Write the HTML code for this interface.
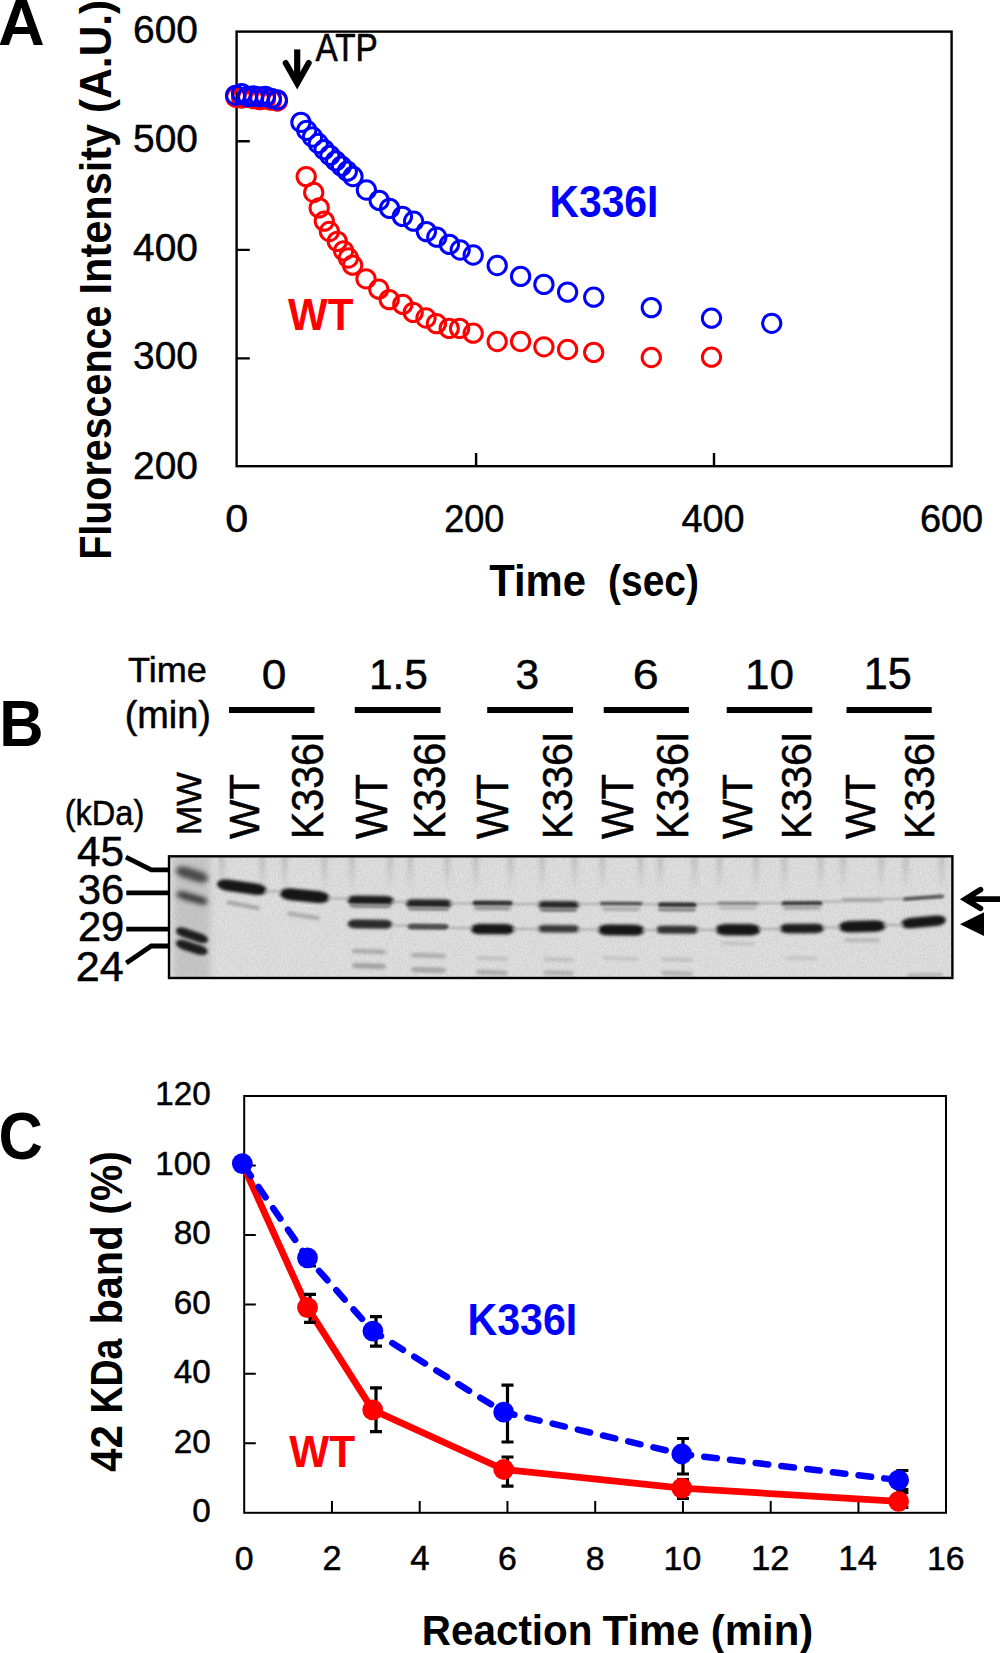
<!DOCTYPE html>
<html><head><meta charset="utf-8"><style>
html,body{margin:0;padding:0;background:#fff;}
body{width:1000px;height:1653px;overflow:hidden;}
svg{display:block;}
text{font-family:"Liberation Sans",sans-serif;}
</style></head><body>
<svg width="1000" height="1653" viewBox="0 0 1000 1653">
<rect width="1000" height="1653" fill="#fff"/>
<text transform="translate(-2.12,44.70) scale(0.9867,1)" font-size="65.65" font-weight="bold" fill="#000" >A</text>
<rect x="236.6" y="31.6" width="715" height="434.6" fill="none" stroke="#000" stroke-width="2.4"/>
<path d="M236.6,141.30H249.8 M236.6,249.85H249.8 M236.6,358.40H249.8 M476.10,466.2V453.1 M714.00,466.2V453.1" stroke="#000" stroke-width="2.4" fill="none"/>
<text transform="translate(133.03,43.41) scale(1.0000,1)" font-size="38.87" font-weight="normal" fill="#000" stroke="#000" stroke-width="0.50">600</text>
<text transform="translate(133.03,152.06) scale(1.0000,1)" font-size="38.87" font-weight="normal" fill="#000" stroke="#000" stroke-width="0.50">500</text>
<text transform="translate(133.03,260.61) scale(1.0000,1)" font-size="38.87" font-weight="normal" fill="#000" stroke="#000" stroke-width="0.50">400</text>
<text transform="translate(133.03,369.31) scale(1.0000,1)" font-size="38.87" font-weight="normal" fill="#000" stroke="#000" stroke-width="0.50">300</text>
<text transform="translate(133.03,478.61) scale(1.0000,1)" font-size="38.87" font-weight="normal" fill="#000" stroke="#000" stroke-width="0.50">200</text>
<text transform="translate(225.15,532.42) scale(1.0851,1)" font-size="38.03" font-weight="normal" fill="#000" stroke="#000" stroke-width="0.46">0</text>
<text transform="translate(444.20,532.42) scale(0.9450,1)" font-size="38.03" font-weight="normal" fill="#000" stroke="#000" stroke-width="0.53">200</text>
<text transform="translate(681.55,532.42) scale(0.9943,1)" font-size="38.03" font-weight="normal" fill="#000" stroke="#000" stroke-width="0.50">400</text>
<text transform="translate(919.90,532.42) scale(0.9984,1)" font-size="38.03" font-weight="normal" fill="#000" stroke="#000" stroke-width="0.50">600</text>
<text transform="translate(489.18,596.40) scale(0.9236,1)" font-size="45.22" font-weight="bold" fill="#000" >Time</text>
<text transform="translate(608.05,596.40) scale(0.8609,1)" font-size="45.22" font-weight="bold" fill="#000" >(sec)</text>
<text transform="translate(110.60,559.76) rotate(-90) scale(0.8980,1)" font-size="43.91" font-weight="bold" fill="#000">Fluorescence</text>
<text transform="translate(110.60,294.50) rotate(-90) scale(0.9458,1)" font-size="43.91" font-weight="bold" fill="#000">Intensity</text>
<text transform="translate(110.60,112.92) rotate(-90) scale(0.9667,1)" font-size="43.91" font-weight="bold" fill="#000">(A.U.)</text>
<text transform="translate(315.43,61.40) scale(0.8727,1)" font-size="38.26" font-weight="normal" fill="#000" stroke="#000" stroke-width="0.57" >ATP</text>
<path d="M297.2,49.4V83" stroke="#000" stroke-width="6.2" fill="none"/>
<path d="M285.7,63 L297.2,83.3 L308.7,63" stroke="#000" stroke-width="6" fill="none" stroke-linecap="round" stroke-linejoin="miter"/>
<text transform="translate(549.55,216.50) scale(0.9289,1)" font-size="43.91" font-weight="bold" fill="#0000ff" >K336I</text>
<text transform="translate(288.00,330.00) scale(0.9676,1)" font-size="43.48" font-weight="bold" fill="#ff0000" >WT</text>
<g fill="none" stroke="#ff0000" stroke-width="3.0"><circle cx="235.8" cy="97.2" r="9.15"/><circle cx="241.7" cy="98.0" r="9.15"/><circle cx="247.7" cy="97.4" r="9.15"/><circle cx="253.6" cy="98.6" r="9.15"/><circle cx="259.6" cy="99.6" r="9.15"/><circle cx="265.5" cy="99.0" r="9.15"/><circle cx="271.5" cy="100.2" r="9.15"/><circle cx="277.4" cy="101.0" r="9.15"/></g>
<g fill="none" stroke="#0000ff" stroke-width="3.0"><circle cx="235.6" cy="95.3" r="9.15"/><circle cx="241.6" cy="93.6" r="9.15"/><circle cx="247.5" cy="96.5" r="9.15"/><circle cx="253.5" cy="96.0" r="9.15"/><circle cx="259.4" cy="96.8" r="9.15"/><circle cx="265.4" cy="96.3" r="9.15"/><circle cx="271.3" cy="98.3" r="9.15"/><circle cx="277.3" cy="99.8" r="9.15"/></g>
<g fill="none" stroke="#0000ff" stroke-width="3.0"><circle cx="300.9" cy="122.3" r="9.15"/><circle cx="306.7" cy="130.3" r="9.15"/><circle cx="312.5" cy="137.0" r="9.15"/><circle cx="318.3" cy="143.5" r="9.15"/><circle cx="324.1" cy="149.6" r="9.15"/><circle cx="329.9" cy="155.4" r="9.15"/><circle cx="335.7" cy="160.9" r="9.15"/><circle cx="341.5" cy="166.1" r="9.15"/><circle cx="347.3" cy="171.2" r="9.15"/><circle cx="353.0" cy="176.5" r="9.15"/><circle cx="366.4" cy="190.0" r="9.15"/><circle cx="379.2" cy="200.4" r="9.15"/><circle cx="389.6" cy="208.4" r="9.15"/><circle cx="402.4" cy="216.4" r="9.15"/><circle cx="413.6" cy="221.2" r="9.15"/><circle cx="426.4" cy="231.6" r="9.15"/><circle cx="436.8" cy="237.2" r="9.15"/><circle cx="449.4" cy="244.4" r="9.15"/><circle cx="460.2" cy="250.0" r="9.15"/><circle cx="473.2" cy="255.0" r="9.15"/><circle cx="497.2" cy="265.5" r="9.15"/><circle cx="520.6" cy="276.4" r="9.15"/><circle cx="543.9" cy="284.4" r="9.15"/><circle cx="567.6" cy="292.1" r="9.15"/><circle cx="593.7" cy="297.2" r="9.15"/><circle cx="651.3" cy="307.6" r="9.15"/><circle cx="711.5" cy="318.2" r="9.15"/><circle cx="771.7" cy="323.3" r="9.15"/></g>
<g fill="none" stroke="#ff0000" stroke-width="3.0"><circle cx="306.2" cy="176.6" r="9.15"/><circle cx="313.7" cy="192.5" r="9.15"/><circle cx="319.2" cy="207.9" r="9.15"/><circle cx="324.3" cy="221.1" r="9.15"/><circle cx="329.4" cy="231.5" r="9.15"/><circle cx="337.3" cy="241.4" r="9.15"/><circle cx="343.6" cy="250.8" r="9.15"/><circle cx="348.4" cy="258.0" r="9.15"/><circle cx="352.6" cy="265.2" r="9.15"/><circle cx="366.0" cy="278.8" r="9.15"/><circle cx="378.8" cy="289.2" r="9.15"/><circle cx="389.2" cy="299.6" r="9.15"/><circle cx="402.8" cy="304.4" r="9.15"/><circle cx="413.2" cy="312.4" r="9.15"/><circle cx="426.0" cy="318.0" r="9.15"/><circle cx="436.4" cy="323.6" r="9.15"/><circle cx="449.2" cy="328.4" r="9.15"/><circle cx="459.6" cy="328.4" r="9.15"/><circle cx="473.2" cy="333.2" r="9.15"/><circle cx="497.2" cy="341.5" r="9.15"/><circle cx="520.6" cy="341.5" r="9.15"/><circle cx="543.9" cy="346.8" r="9.15"/><circle cx="567.6" cy="349.5" r="9.15"/><circle cx="593.7" cy="352.4" r="9.15"/><circle cx="651.3" cy="357.5" r="9.15"/><circle cx="711.5" cy="357.2" r="9.15"/></g>
<text transform="translate(-0.70,745.50) scale(0.9364,1)" font-size="65.65" font-weight="bold" fill="#000" >B</text>
<text transform="translate(127.98,681.90) scale(1.0519,1)" font-size="34.35" font-weight="normal" fill="#000" stroke="#000" stroke-width="0.48" >Time</text>
<text transform="translate(124.73,727.50) scale(0.9770,1)" font-size="38.76" font-weight="normal" fill="#000" stroke="#000" stroke-width="0.51" >(min)</text>
<text transform="translate(64.75,825.10) scale(0.9040,1)" font-size="36.00" font-weight="normal" fill="#000" stroke="#000" stroke-width="0.55" >(kDa)</text>
<text transform="translate(261.73,689.20) scale(1.0180,1)" font-size="43.43" font-weight="normal" fill="#000" stroke="#000" stroke-width="0.49" >0</text>
<text transform="translate(368.91,689.20) scale(0.9788,1)" font-size="43.43" font-weight="normal" fill="#000" stroke="#000" stroke-width="0.51" >1.5</text>
<text transform="translate(515.41,689.20) scale(0.9749,1)" font-size="43.43" font-weight="normal" fill="#000" stroke="#000" stroke-width="0.51" >3</text>
<text transform="translate(632.66,689.20) scale(1.0762,1)" font-size="43.43" font-weight="normal" fill="#000" stroke="#000" stroke-width="0.46" >6</text>
<text transform="translate(744.99,689.20) scale(1.0159,1)" font-size="43.43" font-weight="normal" fill="#000" stroke="#000" stroke-width="0.49" >10</text>
<text transform="translate(863.76,689.20) scale(0.9951,1)" font-size="43.43" font-weight="normal" fill="#000" stroke="#000" stroke-width="0.50" >15</text>
<text transform="translate(200.50,835.24) rotate(-90) scale(1.0085,1)" font-size="35.22" font-weight="normal" fill="#000" stroke="#000" stroke-width="0.50">MW</text>
<text transform="translate(258.90,838.91) rotate(-90) scale(0.9688,1)" font-size="43.04" font-weight="normal" fill="#000" stroke="#000" stroke-width="0.52">WT</text>
<text transform="translate(386.60,838.91) rotate(-90) scale(0.9342,1)" font-size="44.64" font-weight="normal" fill="#000" stroke="#000" stroke-width="0.54">WT</text>
<text transform="translate(508.00,838.91) rotate(-90) scale(0.9465,1)" font-size="44.06" font-weight="normal" fill="#000" stroke="#000" stroke-width="0.53">WT</text>
<text transform="translate(633.20,838.91) rotate(-90) scale(0.9403,1)" font-size="44.35" font-weight="normal" fill="#000" stroke="#000" stroke-width="0.53">WT</text>
<text transform="translate(751.90,838.91) rotate(-90) scale(0.9753,1)" font-size="42.75" font-weight="normal" fill="#000" stroke="#000" stroke-width="0.51">WT</text>
<text transform="translate(875.20,838.91) rotate(-90) scale(0.9655,1)" font-size="43.19" font-weight="normal" fill="#000" stroke="#000" stroke-width="0.52">WT</text>
<text transform="translate(322.80,839.30) rotate(-90) scale(0.9306,1)" font-size="44.35" font-weight="normal" fill="#000" stroke="#000" stroke-width="0.54">K336I</text>
<text transform="translate(445.00,839.30) rotate(-90) scale(0.9246,1)" font-size="44.64" font-weight="normal" fill="#000" stroke="#000" stroke-width="0.54">K336I</text>
<text transform="translate(571.50,839.30) rotate(-90) scale(0.9524,1)" font-size="43.33" font-weight="normal" fill="#000" stroke="#000" stroke-width="0.52">K336I</text>
<text transform="translate(688.30,839.30) rotate(-90) scale(0.9492,1)" font-size="43.48" font-weight="normal" fill="#000" stroke="#000" stroke-width="0.53">K336I</text>
<text transform="translate(810.50,839.30) rotate(-90) scale(0.9524,1)" font-size="43.33" font-weight="normal" fill="#000" stroke="#000" stroke-width="0.52">K336I</text>
<text transform="translate(933.50,839.30) rotate(-90) scale(0.9556,1)" font-size="43.19" font-weight="normal" fill="#000" stroke="#000" stroke-width="0.52">K336I</text>
<text transform="translate(77.05,866.38) scale(1.0000,1)" font-size="42.29" font-weight="normal" fill="#000" stroke="#000" stroke-width="0.50">45</text>
<text transform="translate(77.75,903.88) scale(1.0000,1)" font-size="41.83" font-weight="normal" fill="#000" stroke="#000" stroke-width="0.50">36</text>
<text transform="translate(77.90,940.68) scale(1.0000,1)" font-size="41.69" font-weight="normal" fill="#000" stroke="#000" stroke-width="0.50">29</text>
<text transform="translate(75.71,981.00) scale(1.0000,1)" font-size="43.14" font-weight="normal" fill="#000" stroke="#000" stroke-width="0.50">24</text>
<path d="M229,710H314.5 M354.8,710H440.6 M487.2,710H573 M603.7,710H688.9 M726.7,710H812.3 M846.5,710H931.7" stroke="#000" stroke-width="6" fill="none"/>
<path d="M125.9,857.1L151.3,869.8H168 M126.3,892.8H168 M126.3,929.1H168 M126.3,962.9L151.3,946H168" stroke="#000" stroke-width="4.8" fill="none" stroke-linejoin="miter"/>
<defs>
<filter id="b1" x="-30%" y="-150%" width="160%" height="400%"><feGaussianBlur stdDeviation="1.25"/></filter>
<filter id="b15" x="-30%" y="-150%" width="160%" height="400%"><feGaussianBlur stdDeviation="1.55"/></filter>
<filter id="b2" x="-30%" y="-150%" width="160%" height="400%"><feGaussianBlur stdDeviation="1.8"/></filter>
<filter id="b25" x="-30%" y="-150%" width="160%" height="400%"><feGaussianBlur stdDeviation="2.4"/></filter>
<filter id="b28" x="-30%" y="-150%" width="160%" height="400%"><feGaussianBlur stdDeviation="2.8"/></filter>
<filter id="b3" x="-20%" y="-20%" width="140%" height="140%"><feGaussianBlur stdDeviation="3"/></filter>
<filter id="noise" x="0" y="0" width="100%" height="100%"><feTurbulence type="fractalNoise" baseFrequency="0.55" numOctaves="2" seed="3"/><feColorMatrix type="matrix" values="1.2 0 0 0 0.16  1.2 0 0 0 0.16  1.2 0 0 0 0.16  0 0 0 0 0.22"/><feGaussianBlur stdDeviation="0.6"/></filter>
<filter id="bs" filterUnits="userSpaceOnUse" x="0" y="840" width="1000" height="160"><feGaussianBlur stdDeviation="2.2"/></filter>
<linearGradient id="streak" x1="0" y1="0" x2="0" y2="1"><stop offset="0" stop-color="#808080" stop-opacity="0.38"/><stop offset="0.5" stop-color="#808080" stop-opacity="0.2"/><stop offset="1" stop-color="#808080" stop-opacity="0"/></linearGradient>
<clipPath id="gelclip"><rect x="169" y="856.5" width="783.4" height="121.5"/></clipPath>
</defs>
<g clip-path="url(#gelclip)">
<rect x="169" y="856.5" width="783.4" height="121.5" fill="#d8d8d8"/>
<rect x="169" y="856.5" width="783.4" height="121.5" filter="url(#noise)"/>
<rect x="174" y="856" width="36" height="124" fill="#909090" opacity="0.3" filter="url(#b3)"/>
<rect x="219.3" y="856" width="5" height="36" fill="url(#streak)" filter="url(#bs)"/>
<rect x="259.8" y="856" width="5" height="36" fill="url(#streak)" filter="url(#bs)"/>
<rect x="282.2" y="856" width="5" height="36" fill="url(#streak)" filter="url(#bs)"/>
<rect x="321.9" y="856" width="5" height="36" fill="url(#streak)" filter="url(#bs)"/>
<rect x="349.4" y="856" width="5" height="36" fill="url(#streak)" filter="url(#bs)"/>
<rect x="387.3" y="856" width="5" height="36" fill="url(#streak)" filter="url(#bs)"/>
<rect x="407.7" y="856" width="5" height="36" fill="url(#streak)" filter="url(#bs)"/>
<rect x="445.1" y="856" width="5" height="36" fill="url(#streak)" filter="url(#bs)"/>
<rect x="473.2" y="856" width="5" height="36" fill="url(#streak)" filter="url(#bs)"/>
<rect x="508.1" y="856" width="5" height="36" fill="url(#streak)" filter="url(#bs)"/>
<rect x="539.5" y="856" width="5" height="36" fill="url(#streak)" filter="url(#bs)"/>
<rect x="572.0" y="856" width="5" height="36" fill="url(#streak)" filter="url(#bs)"/>
<rect x="599.9" y="856" width="5" height="36" fill="url(#streak)" filter="url(#bs)"/>
<rect x="638.1" y="856" width="5" height="36" fill="url(#streak)" filter="url(#bs)"/>
<rect x="657.6" y="856" width="5" height="36" fill="url(#streak)" filter="url(#bs)"/>
<rect x="691.8" y="856" width="5" height="36" fill="url(#streak)" filter="url(#bs)"/>
<rect x="717.1" y="856" width="5" height="36" fill="url(#streak)" filter="url(#bs)"/>
<rect x="753.4" y="856" width="5" height="36" fill="url(#streak)" filter="url(#bs)"/>
<rect x="781.9" y="856" width="5" height="36" fill="url(#streak)" filter="url(#bs)"/>
<rect x="818.2" y="856" width="5" height="36" fill="url(#streak)" filter="url(#bs)"/>
<rect x="840.6" y="856" width="5" height="36" fill="url(#streak)" filter="url(#bs)"/>
<rect x="878.7" y="856" width="5" height="36" fill="url(#streak)" filter="url(#bs)"/>
<rect x="903.0" y="856" width="5" height="36" fill="url(#streak)" filter="url(#bs)"/>
<rect x="939.3" y="856" width="5" height="36" fill="url(#streak)" filter="url(#bs)"/>
<rect x="-16.8" y="-5.5" width="33.5" height="11.0" rx="9.9" ry="5.5" fill="#4a4a4a" opacity="1" filter="url(#b28)" transform="translate(192.0,874.5) rotate(17.35)"/>
<rect x="-16.1" y="-3.8" width="32.2" height="7.5" rx="6.8" ry="3.8" fill="#383838" opacity="1" filter="url(#b25)" transform="translate(192.0,897.9) rotate(15.85)"/>
<rect x="-16.9" y="-4.5" width="33.8" height="9.0" rx="8.1" ry="4.5" fill="#1c1c1c" opacity="1" filter="url(#b2)" transform="translate(192.0,935.3) rotate(18.97)"/>
<rect x="-16.6" y="-4.8" width="33.1" height="9.5" rx="8.6" ry="4.8" fill="#1e1e1e" opacity="1" filter="url(#b2)" transform="translate(191.8,947.5) rotate(17.94)"/>
<rect x="-25.1" y="-5.8" width="50.2" height="11.6" rx="10.4" ry="5.8" fill="#141414" opacity="1" filter="url(#b15)" transform="translate(241.8,887.2) rotate(8.13)"/>
<rect x="-17.3" y="-2.0" width="34.6" height="4.1" rx="3.7" ry="2.0" fill="#a4a4a4" opacity="1" filter="url(#b2)" transform="translate(243.0,905.2) rotate(10.82)"/>
<rect x="-25.0" y="-6.0" width="50.1" height="12.1" rx="10.9" ry="6.0" fill="#161616" opacity="1" filter="url(#b15)" transform="translate(304.6,895.7) rotate(5.73)"/>
<rect x="-16.7" y="-2.0" width="33.4" height="4.1" rx="3.7" ry="2.0" fill="#a8a8a8" opacity="1" filter="url(#b2)" transform="translate(303.5,915.9) rotate(9.12)"/>
<rect x="-23.3" y="-4.8" width="46.6" height="9.6" rx="8.6" ry="4.8" fill="#1c1c1c" opacity="1" filter="url(#b15)" transform="translate(370.6,900.5) rotate(0.74)"/>
<rect x="-20.5" y="-2.1" width="41.0" height="4.3" rx="3.9" ry="2.1" fill="#8a8a8a" opacity="1" filter="url(#b1)" transform="translate(370.5,905.8) rotate(0.70)"/>
<rect x="-22.5" y="-4.5" width="45.0" height="9.1" rx="8.2" ry="4.5" fill="#2a2a2a" opacity="1" filter="url(#b15)" transform="translate(370.0,924.1) rotate(0.76)"/>
<rect x="-17.0" y="-2.3" width="34.0" height="4.6" rx="4.1" ry="2.3" fill="#a8a8a8" opacity="1" filter="url(#b2)" transform="translate(369.0,951.5) rotate(1.68)"/>
<rect x="-17.0" y="-2.8" width="34.0" height="5.6" rx="5.0" ry="2.8" fill="#a2a2a2" opacity="1" filter="url(#b2)" transform="translate(369.0,966.0) rotate(1.68)"/>
<rect x="-23.3" y="-4.3" width="46.6" height="8.6" rx="7.7" ry="4.3" fill="#222222" opacity="1" filter="url(#b15)" transform="translate(428.8,903.6) rotate(0.49)"/>
<rect x="-20.5" y="-1.9" width="41.0" height="3.8" rx="3.4" ry="1.9" fill="#8a8a8a" opacity="1" filter="url(#b1)" transform="translate(428.5,908.8) rotate(0.70)"/>
<rect x="-21.0" y="-2.9" width="42.0" height="5.8" rx="5.2" ry="2.9" fill="#505050" opacity="1" filter="url(#b1)" transform="translate(428.0,926.7) rotate(0.55)"/>
<rect x="-17.5" y="-2.3" width="35.0" height="4.6" rx="4.1" ry="2.3" fill="#aaaaaa" opacity="1" filter="url(#b2)" transform="translate(428.5,955.5) rotate(1.64)"/>
<rect x="-17.5" y="-2.8" width="35.0" height="5.6" rx="5.0" ry="2.8" fill="#a6a6a6" opacity="1" filter="url(#b2)" transform="translate(428.5,970.0) rotate(1.64)"/>
<rect x="-20.6" y="-2.6" width="41.2" height="5.3" rx="4.8" ry="2.6" fill="#333333" opacity="1" filter="url(#b1)" transform="translate(492.6,903.1) rotate(0.28)"/>
<rect x="-18.5" y="-2.0" width="37.0" height="4.1" rx="3.7" ry="2.0" fill="#909090" opacity="1" filter="url(#b2)" transform="translate(492.5,908.1) rotate(0.31)"/>
<rect x="-22.1" y="-5.3" width="44.2" height="10.6" rx="9.5" ry="5.3" fill="#181818" opacity="1" filter="url(#b15)" transform="translate(492.6,929.1) rotate(0.26)"/>
<rect x="-16.0" y="-2.0" width="32.0" height="4.1" rx="3.7" ry="2.0" fill="#c0c0c0" opacity="1" filter="url(#b2)" transform="translate(492.0,958.5) rotate(1.79)"/>
<rect x="-16.0" y="-2.5" width="32.0" height="5.1" rx="4.6" ry="2.5" fill="#aaaaaa" opacity="1" filter="url(#b2)" transform="translate(492.0,972.5) rotate(1.79)"/>
<rect x="-20.9" y="-3.8" width="41.8" height="7.6" rx="6.8" ry="3.8" fill="#282828" opacity="1" filter="url(#b15)" transform="translate(558.6,904.8) rotate(0.41)"/>
<rect x="-18.5" y="-1.9" width="37.0" height="3.8" rx="3.4" ry="1.9" fill="#7c7c7c" opacity="1" filter="url(#b1)" transform="translate(558.5,909.9) rotate(0.31)"/>
<rect x="-20.9" y="-3.8" width="41.8" height="7.6" rx="6.8" ry="3.8" fill="#383838" opacity="1" filter="url(#b15)" transform="translate(558.6,928.8) rotate(0.27)"/>
<rect x="-15.5" y="-2.0" width="31.0" height="4.1" rx="3.7" ry="2.0" fill="#c0c0c0" opacity="1" filter="url(#b2)" transform="translate(558.5,959.5) rotate(1.85)"/>
<rect x="-15.5" y="-2.5" width="31.0" height="5.1" rx="4.6" ry="2.5" fill="#b0b0b0" opacity="1" filter="url(#b2)" transform="translate(558.5,973.0) rotate(1.85)"/>
<rect x="-21.8" y="-1.9" width="43.6" height="3.9" rx="3.5" ry="1.9" fill="#555555" opacity="1" filter="url(#b1)" transform="translate(621.2,903.6) rotate(0.26)"/>
<rect x="-19.0" y="-2.0" width="38.0" height="4.1" rx="3.7" ry="2.0" fill="#a8a8a8" opacity="1" filter="url(#b2)" transform="translate(621.0,909.0) rotate(0.60)"/>
<rect x="-23.3" y="-5.6" width="46.6" height="11.2" rx="10.1" ry="5.6" fill="#121212" opacity="1" filter="url(#b15)" transform="translate(621.2,930.0) rotate(0.49)"/>
<rect x="-18.0" y="-1.8" width="36.0" height="3.6" rx="3.2" ry="1.8" fill="#c2c2c2" opacity="1" filter="url(#b2)" transform="translate(621.0,958.5) rotate(1.59)"/>
<rect x="-19.7" y="-2.5" width="39.4" height="5.1" rx="4.6" ry="2.5" fill="#303030" opacity="1" filter="url(#b1)" transform="translate(677.3,904.8) rotate(0.29)"/>
<rect x="-19.0" y="-1.9" width="38.0" height="3.8" rx="3.4" ry="1.9" fill="#8a8a8a" opacity="1" filter="url(#b1)" transform="translate(677.0,909.6) rotate(0.45)"/>
<rect x="-21.2" y="-4.1" width="42.4" height="8.2" rx="7.4" ry="4.1" fill="#333333" opacity="1" filter="url(#b15)" transform="translate(677.3,929.7) rotate(0.27)"/>
<rect x="-16.0" y="-1.8" width="32.0" height="3.6" rx="3.2" ry="1.8" fill="#bebebe" opacity="1" filter="url(#b2)" transform="translate(677.0,959.5) rotate(1.79)"/>
<rect x="-16.0" y="-2.5" width="32.0" height="5.1" rx="4.6" ry="2.5" fill="#b4b4b4" opacity="1" filter="url(#b2)" transform="translate(677.0,973.5) rotate(1.79)"/>
<rect x="-21.2" y="-1.6" width="42.4" height="3.3" rx="3.0" ry="1.6" fill="#7a7a7a" opacity="1" filter="url(#b1)" transform="translate(738.0,903.3) rotate(0.27)"/>
<rect x="-19.0" y="-1.6" width="38.0" height="3.1" rx="2.8" ry="1.6" fill="#b0b0b0" opacity="1" filter="url(#b2)" transform="translate(738.0,907.9) rotate(0.30)"/>
<rect x="-22.7" y="-5.8" width="45.4" height="11.6" rx="10.4" ry="5.8" fill="#121212" opacity="1" filter="url(#b15)" transform="translate(738.0,929.7) rotate(0.25)"/>
<rect x="-17.0" y="-1.6" width="34.0" height="3.1" rx="2.8" ry="1.6" fill="#bcbcbc" opacity="1" filter="url(#b2)" transform="translate(738.0,943.5) rotate(1.68)"/>
<rect x="-20.9" y="-2.2" width="41.8" height="4.5" rx="4.0" ry="2.2" fill="#3a3a3a" opacity="1" filter="url(#b1)" transform="translate(801.9,903.3) rotate(-0.27)"/>
<rect x="-19.0" y="-1.8" width="38.0" height="3.6" rx="3.2" ry="1.8" fill="#9a9a9a" opacity="1" filter="url(#b2)" transform="translate(802.0,907.8) rotate(-0.30)"/>
<rect x="-22.4" y="-4.7" width="44.8" height="9.4" rx="8.5" ry="4.7" fill="#1e1e1e" opacity="1" filter="url(#b15)" transform="translate(801.9,928.5) rotate(-0.26)"/>
<rect x="-16.5" y="-1.8" width="33.0" height="3.6" rx="3.2" ry="1.8" fill="#c2c2c2" opacity="1" filter="url(#b2)" transform="translate(801.5,958.2) rotate(0.87)"/>
<rect x="-21.1" y="-1.8" width="42.2" height="3.6" rx="3.2" ry="1.8" fill="#9a9a9a" opacity="1" filter="url(#b2)" transform="translate(862.3,900.0) rotate(-0.54)"/>
<rect x="-23.6" y="-5.8" width="47.2" height="11.6" rx="10.4" ry="5.8" fill="#121212" opacity="1" filter="url(#b15)" transform="translate(862.3,926.4) rotate(-1.46)"/>
<rect x="-18.0" y="-1.8" width="36.0" height="3.6" rx="3.2" ry="1.8" fill="#b4b4b4" opacity="1" filter="url(#b2)" transform="translate(862.0,940.3) rotate(0.32)"/>
<rect x="-21.0" y="-1.9" width="41.9" height="3.8" rx="3.4" ry="1.9" fill="#5a5a5a" opacity="1" filter="url(#b1)" transform="translate(923.5,897.7) rotate(-4.11)"/>
<rect x="-22.5" y="-5.3" width="45.0" height="10.6" rx="9.5" ry="5.3" fill="#141414" opacity="1" filter="url(#b15)" transform="translate(923.5,921.9) rotate(-5.36)"/>
<rect x="-18.0" y="-1.6" width="36.0" height="3.1" rx="2.8" ry="1.6" fill="#aaaaaa" opacity="1" filter="url(#b2)" transform="translate(925.0,975.0) rotate(-1.59)"/>
<rect x="264" y="890.3" width="18" height="2.4" fill="#a8a8a8" filter="url(#b1)" opacity="0.8"/>
<rect x="327" y="897.3" width="23" height="2.4" fill="#a8a8a8" filter="url(#b1)" opacity="0.8"/>
<rect x="391" y="900.8" width="17" height="2.4" fill="#a8a8a8" filter="url(#b1)" opacity="0.8"/>
<rect x="449" y="902.3" width="24" height="2.4" fill="#a8a8a8" filter="url(#b1)" opacity="0.8"/>
<rect x="512" y="902.8" width="28" height="2.4" fill="#a8a8a8" filter="url(#b1)" opacity="0.8"/>
<rect x="577" y="902.8" width="23" height="2.4" fill="#a8a8a8" filter="url(#b1)" opacity="0.8"/>
<rect x="642" y="903.1" width="16" height="2.4" fill="#a8a8a8" filter="url(#b1)" opacity="0.8"/>
<rect x="696" y="902.8" width="22" height="2.4" fill="#a8a8a8" filter="url(#b1)" opacity="0.8"/>
<rect x="758" y="902.1" width="24" height="2.4" fill="#a8a8a8" filter="url(#b1)" opacity="0.8"/>
<rect x="822" y="900.3" width="19" height="2.4" fill="#a8a8a8" filter="url(#b1)" opacity="0.8"/>
<rect x="883" y="897.8" width="21" height="2.4" fill="#a8a8a8" filter="url(#b1)" opacity="0.8"/>
<rect x="391" y="924.3" width="17" height="2.4" fill="#a8a8a8" filter="url(#b1)" opacity="0.8"/>
<rect x="449" y="926.8" width="24" height="2.4" fill="#a8a8a8" filter="url(#b1)" opacity="0.8"/>
<rect x="512" y="927.8" width="28" height="2.4" fill="#a8a8a8" filter="url(#b1)" opacity="0.8"/>
<rect x="577" y="928.3" width="23" height="2.4" fill="#a8a8a8" filter="url(#b1)" opacity="0.8"/>
<rect x="642" y="928.8" width="16" height="2.4" fill="#a8a8a8" filter="url(#b1)" opacity="0.8"/>
<rect x="696" y="928.6" width="22" height="2.4" fill="#a8a8a8" filter="url(#b1)" opacity="0.8"/>
<rect x="758" y="927.8" width="24" height="2.4" fill="#a8a8a8" filter="url(#b1)" opacity="0.8"/>
<rect x="822" y="926.3" width="19" height="2.4" fill="#a8a8a8" filter="url(#b1)" opacity="0.8"/>
<rect x="883" y="923.8" width="21" height="2.4" fill="#a8a8a8" filter="url(#b1)" opacity="0.8"/>
</g>
<rect x="169" y="856.3" width="783.4" height="121.7" fill="none" stroke="#000" stroke-width="2.4"/>
<path d="M968,899.1H1001 M980.5,889.6 L965.2,899.2 L980.5,908.4" stroke="#000" stroke-width="5.6" fill="none" stroke-linecap="round" stroke-linejoin="miter"/>
<path d="M960,924.3 L984,912.2 L984,936 Z" fill="#000"/>
<text transform="translate(-1.45,1159.30) scale(0.9180,1)" font-size="66.86" font-weight="bold" fill="#000" >C</text>
<text transform="translate(192.18,1522.47) scale(1.0000,1)" font-size="33.24" font-weight="normal" fill="#000" stroke="#000" stroke-width="0.50">0</text>
<text transform="translate(173.73,1452.60) scale(1.0000,1)" font-size="33.24" font-weight="normal" fill="#000" stroke="#000" stroke-width="0.50">20</text>
<text transform="translate(173.73,1383.14) scale(1.0000,1)" font-size="33.24" font-weight="normal" fill="#000" stroke="#000" stroke-width="0.50">40</text>
<text transform="translate(173.73,1313.67) scale(1.0000,1)" font-size="33.24" font-weight="normal" fill="#000" stroke="#000" stroke-width="0.50">60</text>
<text transform="translate(173.73,1244.20) scale(1.0000,1)" font-size="33.24" font-weight="normal" fill="#000" stroke="#000" stroke-width="0.50">80</text>
<text transform="translate(155.29,1174.74) scale(1.0000,1)" font-size="33.24" font-weight="normal" fill="#000" stroke="#000" stroke-width="0.50">100</text>
<text transform="translate(155.29,1105.27) scale(1.0000,1)" font-size="33.24" font-weight="normal" fill="#000" stroke="#000" stroke-width="0.50">120</text>
<text transform="translate(234.82,1570.06) scale(1.0000,1)" font-size="33.80" font-weight="normal" fill="#000" stroke="#000" stroke-width="0.50">0</text>
<text transform="translate(322.44,1570.40) scale(1.0000,1)" font-size="34.29" font-weight="normal" fill="#000" stroke="#000" stroke-width="0.50">2</text>
<text transform="translate(410.13,1570.40) scale(1.0000,1)" font-size="34.78" font-weight="normal" fill="#000" stroke="#000" stroke-width="0.50">4</text>
<text transform="translate(497.99,1570.06) scale(1.0000,1)" font-size="33.80" font-weight="normal" fill="#000" stroke="#000" stroke-width="0.50">6</text>
<text transform="translate(585.74,1570.06) scale(1.0000,1)" font-size="33.80" font-weight="normal" fill="#000" stroke="#000" stroke-width="0.50">8</text>
<text transform="translate(663.60,1570.06) scale(1.0000,1)" font-size="33.80" font-weight="normal" fill="#000" stroke="#000" stroke-width="0.50">10</text>
<text transform="translate(751.24,1570.40) scale(1.0000,1)" font-size="34.29" font-weight="normal" fill="#000" stroke="#000" stroke-width="0.50">12</text>
<text transform="translate(838.36,1570.40) scale(1.0000,1)" font-size="34.78" font-weight="normal" fill="#000" stroke="#000" stroke-width="0.50">14</text>
<text transform="translate(926.93,1570.06) scale(1.0000,1)" font-size="33.80" font-weight="normal" fill="#000" stroke="#000" stroke-width="0.50">16</text>
<text transform="translate(421.77,1644.50) scale(0.9427,1)" font-size="42.90" font-weight="bold" fill="#000" >Reaction</text>
<text transform="translate(602.38,1644.50) scale(0.9776,1)" font-size="42.90" font-weight="bold" fill="#000" >Time</text>
<text transform="translate(710.80,1644.50) scale(0.9782,1)" font-size="42.90" font-weight="bold" fill="#000" >(min)</text>
<text transform="translate(122.30,1471.93) rotate(-90) scale(0.9621,1)" font-size="43.84" font-weight="bold" fill="#000">42</text>
<text transform="translate(122.30,1413.43) rotate(-90) scale(0.8538,1)" font-size="43.84" font-weight="bold" fill="#000">KDa</text>
<text transform="translate(122.30,1324.60) rotate(-90) scale(0.9477,1)" font-size="43.84" font-weight="bold" fill="#000">band</text>
<text transform="translate(122.30,1214.64) rotate(-90) scale(0.9296,1)" font-size="43.84" font-weight="bold" fill="#000">(%)</text>
<text transform="translate(467.53,1334.70) scale(0.9299,1)" font-size="44.20" font-weight="bold" fill="#0000ff" >K336I</text>
<text transform="translate(289.30,1467.20) scale(0.9751,1)" font-size="43.48" font-weight="bold" fill="#ff0000" >WT</text>
<rect x="244.2" y="1096" width="701.8" height="416.8" fill="none" stroke="#000" stroke-width="2"/>
<path d="M244.2,1443.33H255.8 M244.2,1373.87H255.8 M244.2,1304.40H255.8 M244.2,1234.94H255.8 M244.2,1165.47H255.8 M331.95,1512.8V1501.1 M419.70,1512.8V1501.1 M507.45,1512.8V1501.1 M595.20,1512.8V1501.1 M682.95,1512.8V1501.1 M770.70,1512.8V1501.1 M858.45,1512.8V1501.1" stroke="#000" stroke-width="2" fill="none"/>
<polyline points="242.3,1163.6 307.5,1307.6 372.7,1409.9 503.7,1469.5 681.8,1488.2 898.6,1501.4" fill="none" stroke="#ff0000" stroke-width="6.8" stroke-linejoin="round"/>
<path d="M310.0,1294.3V1322.3 M304.0,1294.3H316.0 M304.0,1322.3H316.0 M376.0,1387.9V1431.6 M370.0,1387.9H382.0 M370.0,1431.6H382.0 M507.5,1457.0V1486.2 M501.5,1457.0H513.5 M501.5,1486.2H513.5 M683.0,1479.5V1498.5 M677.0,1479.5H689.0 M677.0,1498.5H689.0 M902.4,1492.7V1507.4 M896.4,1492.7H908.4 M896.4,1507.4H908.4" stroke="#000" stroke-width="3.2" fill="none"/>
<circle cx="307.5" cy="1307.6" r="10.4" fill="#ff0000"/><circle cx="372.7" cy="1409.9" r="10.4" fill="#ff0000"/><circle cx="503.7" cy="1469.5" r="10.4" fill="#ff0000"/><circle cx="681.8" cy="1488.2" r="10.4" fill="#ff0000"/><circle cx="898.6" cy="1501.4" r="10.4" fill="#ff0000"/>
<polyline points="242.3,1163.6 307.5,1257.9 372.9,1331.1 503.7,1412.2 681.8,1454.0 898.6,1480.1" fill="none" stroke="#0000ff" stroke-width="6.5" stroke-dasharray="12.6 13.3" stroke-dashoffset="-2.5" stroke-linecap="round" stroke-linejoin="round"/>
<path d="M310.0,1255.0V1266.0 M304.0,1255.0H316.0 M304.0,1266.0H316.0 M376.0,1316.7V1346.1 M370.0,1316.7H382.0 M370.0,1346.1H382.0 M507.5,1385.2V1442.0 M501.5,1385.2H513.5 M501.5,1442.0H513.5 M683.0,1438.5V1474.0 M677.0,1438.5H689.0 M677.0,1474.0H689.0 M902.4,1470.5V1489.5 M896.4,1470.5H908.4 M896.4,1489.5H908.4" stroke="#000" stroke-width="3.2" fill="none"/>
<circle cx="242.3" cy="1163.6" r="10.4" fill="#0000ff"/><circle cx="307.5" cy="1257.9" r="10.4" fill="#0000ff"/><circle cx="372.9" cy="1331.1" r="10.4" fill="#0000ff"/><circle cx="503.7" cy="1412.2" r="10.4" fill="#0000ff"/><circle cx="681.8" cy="1454.0" r="10.4" fill="#0000ff"/><circle cx="898.6" cy="1480.1" r="10.4" fill="#0000ff"/>
</svg></body></html>
